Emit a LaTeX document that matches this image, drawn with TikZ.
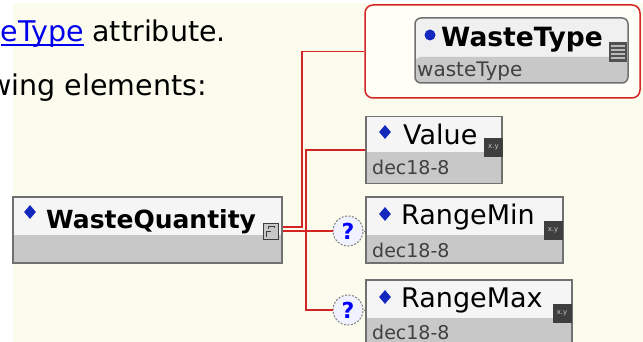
\documentclass[tikz,border=0pt]{standalone}
\usepackage{fontspec}
\setmainfont{DejaVu Sans}
\usetikzlibrary{shapes.geometric,calc}
\definecolor{cream}{RGB}{252,252,238}
\definecolor{creamlight}{RGB}{255,255,247}
\definecolor{connred}{RGB}{212,36,36}
\definecolor{boxborder}{RGB}{112,112,112}
\definecolor{boxtop}{RGB}{245,245,245}
\definecolor{boxgray}{RGB}{200,200,200}
\definecolor{linkblue}{RGB}{0,0,238}
\definecolor{dblue}{RGB}{20,40,190}
\definecolor{subgray}{RGB}{64,64,64}
\definecolor{icondark}{RGB}{62,62,62}
\definecolor{qfill}{RGB}{240,242,255}
\begin{document}
\begin{tikzpicture}[x=1pt,y=-1pt,
  elembox/.style={draw=boxborder, line width=1.5pt, fill=boxtop, inner sep=0pt, rectangle},
  lower/.style={path picture={\fill[boxgray] ([yshift=#1]path picture bounding box.south west) rectangle (path picture bounding box.south east);}},
  toptext/.style={font=\fontsize{28.5}{30}\selectfont, inner sep=0pt, text=black},
  titlebold/.style={font=\fontsize{25}{25}\selectfont\bfseries, inner sep=0pt, text=black},
  titlereg/.style={font=\fontsize{27}{27}\selectfont, inner sep=0pt, text=black},
  subtext/.style={font=\fontsize{19}{19}\selectfont, inner sep=0pt, text=subgray},
  conn/.style={draw=connred, line width=1.5pt},
  stub/.style={draw=boxborder, line width=1pt},
  bluediamond/.style={diamond, fill=dblue, minimum width=12pt, minimum height=14pt, inner sep=0pt},
  xyicon/.style={rectangle, fill=icondark, minimum width=19pt, minimum height=19pt, inner sep=0pt, text=gray!45, font=\fontsize{7}{7}\selectfont},
  qcirc/.style={circle, draw=gray, line width=1pt, dash pattern=on 2pt off 1.5pt, fill=qfill, minimum size=30pt, inner sep=0pt, text=blue, font=\fontsize{22}{22}\selectfont\bfseries}
]
\useasboundingbox (0,0) rectangle (643,342);
\fill[white] (0,0) rectangle (643,342);
\fill[cream] (13,3) rectangle (643,342);

% top text
\node[toptext, text=linkblue, anchor=base east] (link) at (84,42) {eType};
\draw[linkblue, line width=2pt] ([yshift=-3pt]link.base west) -- ([yshift=-3pt]link.base east);
\node[toptext, anchor=base west] (attr) at (92.3,42) {attribute.};
\node[toptext, anchor=base east] (elems) at (207,96) {wing elements:};

% WasteType group
\node[draw=connred, line width=1.5pt, fill=creamlight, rounded corners=8pt, minimum width=275pt, minimum height=93pt, inner sep=0pt] (wtouter) at (502.5,51.5) {};
\node[elembox, rounded corners=6pt, fill=gray!12, lower=26pt, minimum width=213pt, minimum height=65pt] (wt) at (521.5,50.5) {};
\node[circle, fill=dblue, minimum size=11pt, inner sep=0pt] (wtbullet) at (430,35) {};
\node[titlebold, font=\fontsize{26.5}{26.5}\selectfont\bfseries, anchor=base west] (wtname) at (441,47) {WasteType};
\node[subtext, font=\fontsize{20}{20}\selectfont, anchor=base west] (wtsub) at (417,77) {wasteType};
\node[rectangle, fill=icondark!90, minimum width=18pt, minimum height=20pt, inner sep=0pt] (wticon) at (618,52) {};
\foreach \yy in {46,50,54,58} \draw[gray!55, line width=1.4pt] (611,\yy) -- (625,\yy);

% WasteQuantity
\node[elembox, lower=28pt, minimum width=269pt, minimum height=66pt] (wq) at (147.5,230) {};
\node[bluediamond] (wqdia) at (30,212) {};
\node[titlebold, anchor=base west] (wqname) at (46,228) {WasteQuantity};
\node[rectangle, draw=icondark, line width=1pt, fill=boxgray, minimum width=15pt, minimum height=16pt, inner sep=0pt] (wqicon) at (270.5,231) {};
\draw[icondark, line width=0.9pt] (266,237) -- (266,231) -- (271,231) (268,229) -- (268,226) -- (274,226) -- (274,228);

% Value
\node[elembox, lower=31pt, minimum width=136pt, minimum height=67pt] (value) at (434,150) {};
\node[bluediamond] (valdia) at (385,132) {};
\node[titlereg, anchor=base west] (valname) at (403,145) {Value};
\node[subtext, anchor=base west] (valsub) at (372,175) {dec18-8};
\node[xyicon] (valicon) at (493.5,147.5) {x.y};

% RangeMin
\node[elembox, lower=28pt, minimum width=197pt, minimum height=66pt] (rmin) at (464.5,230) {};
\node[bluediamond] (rmindia) at (385,214) {};
\node[titlereg, anchor=base west] (rminname) at (401,225) {RangeMin};
\node[subtext, anchor=base west] (rminsub) at (372,257) {dec18-8};
\node[xyicon] (rminicon) at (553,230) {x.y};

% RangeMax
\node[elembox, lower=28pt, minimum width=206pt, minimum height=66pt] (rmax) at (469,313) {};
\node[bluediamond] (rmaxdia) at (385,297) {};
\node[titlereg, anchor=base west] (rmaxname) at (401,307) {RangeMax};
\node[subtext, anchor=base west] (rmaxsub) at (372,339) {dec18-8};
\node[xyicon] (rmaxicon) at (562,313) {x.y};

% optional markers
\node[qcirc] (qmin) at (348,231) {?};
\node[qcirc] (qmax) at (348,310) {?};

% connectors
\coordinate (busA) at (302,51.5);
\coordinate (busB) at (306,231);
\draw[conn] ([yshift=3pt]wq.east) -| (busA) -- (wtouter.west);
\draw[conn] ([yshift=-1pt]wq.east) -- (qmin.west);
\draw[conn] (value.west) -| (busB) |- (qmax.west);
\draw[stub] (qmin.east) -- (qmin.east -| rmin.west);
\draw[stub] (qmax.east) -- (qmax.east -| rmax.west);
\end{tikzpicture}
\end{document}
